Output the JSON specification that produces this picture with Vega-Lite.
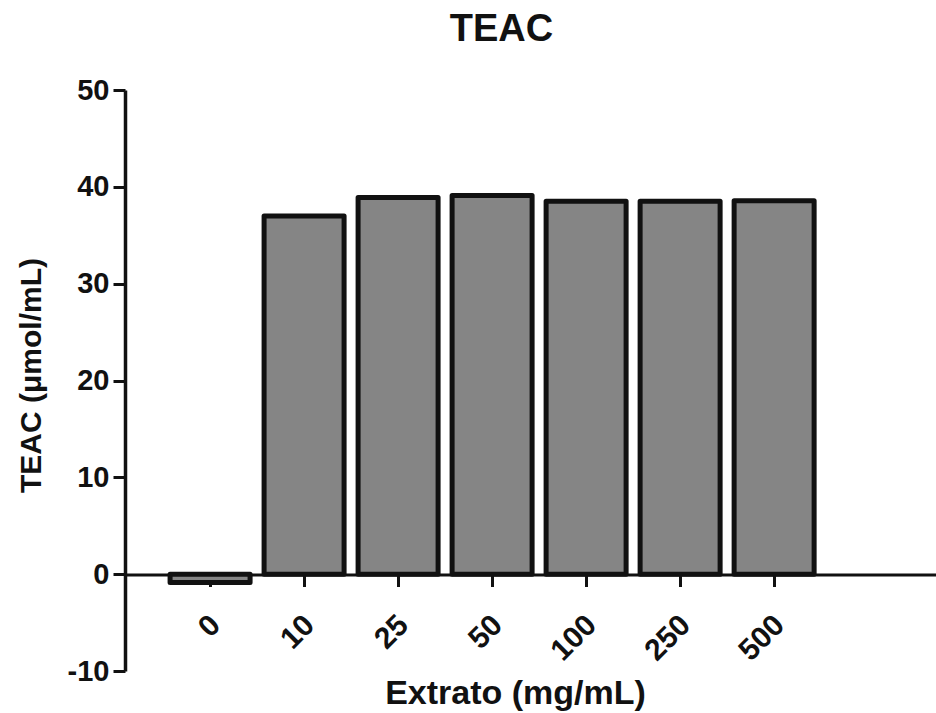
{
  "$schema": "https://vega.github.io/schema/vega-lite/v6.json",
  "width": 811,
  "height": 581,
  "autosize": {"type": "none"},
  "padding": {"left": 125, "top": 90, "right": 0, "bottom": 42},
  "background": "white",
  "config": {"view": {"stroke": null}, "font": "Liberation Sans"},
  "title": {
    "text": "TEAC",
    "fontSize": 38,
    "fontWeight": "bold",
    "font": "Liberation Sans",
    "color": "#111111",
    "anchor": "middle",
    "dx": -29,
    "baseline": "bottom",
    "offset": -11
  },
  "data": {
    "values": [
      {"extrato": "0", "teac": -0.85},
      {"extrato": "10", "teac": 37.0},
      {"extrato": "25", "teac": 38.9},
      {"extrato": "50", "teac": 39.1},
      {"extrato": "100", "teac": 38.5},
      {"extrato": "250", "teac": 38.5},
      {"extrato": "500", "teac": 38.55}
    ]
  },
  "mark": {
    "type": "bar",
    "fill": "#858585",
    "stroke": "#111111",
    "strokeWidth": 5,
    "strokeJoin": "round"
  },
  "encoding": {
    "x": {
      "field": "extrato",
      "type": "ordinal",
      "sort": null,
      "scale": {"paddingInner": 0.149, "paddingOuter": 0.888, "align": 0.27},
      "axis": {
        "title": "Extrato (mg/mL)",
        "offset": -96.5,
        "labelAngle": -45,
        "labelFontSize": 30,
        "labelFontWeight": "bold",
        "labelColor": "#111111",
        "labelPadding": 23,
        "labelOffset": -5,
        "tickSize": 12,
        "tickWidth": 3,
        "tickColor": "#111111",
        "domainWidth": 3,
        "domainColor": "#111111",
        "titleFontSize": 34,
        "titleFontWeight": "bold",
        "titleColor": "#111111",
        "titleX": 390,
        "titleY": 129,
        "titleBaseline": "alphabetic",
        "titleAlign": "center"
      }
    },
    "y": {
      "field": "teac",
      "type": "quantitative",
      "scale": {"domain": [-10, 50], "nice": false, "zero": false},
      "axis": {
        "values": [-10, 0, 10, 20, 30, 40, 50],
        "labelExpr": "datum.value",
        "title": "TEAC (μmol/mL)",
        "titleFontSize": 30,
        "titleFontWeight": "bold",
        "titleColor": "#111111",
        "titleX": -94,
        "titleY": 285,
        "titleAngle": -90,
        "titleBaseline": "middle",
        "titleAlign": "center",
        "labelFontSize": 29,
        "labelFontWeight": "bold",
        "labelColor": "#111111",
        "labelPadding": 4,
        "tickSize": 12,
        "tickWidth": 3,
        "tickColor": "#111111",
        "domainWidth": 3.5,
        "domainColor": "#111111",
        "grid": false
      }
    }
  }
}
